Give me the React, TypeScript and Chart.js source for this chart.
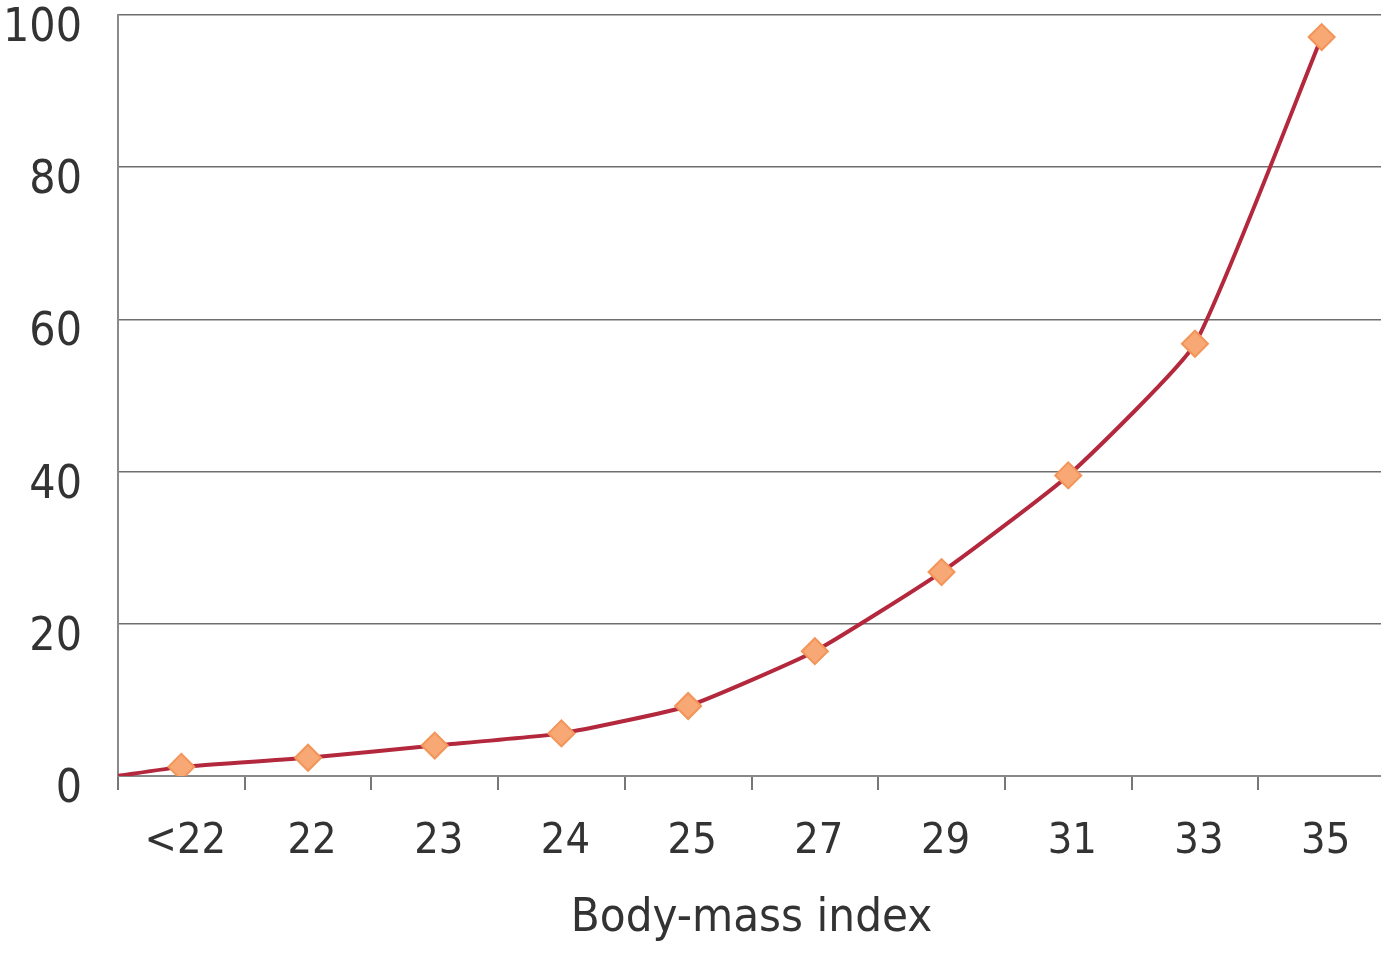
import React, { useEffect, useRef } from 'react';
import { Chart, registerables } from 'chart.js';
Chart.register(...registerables);

const categories = ['<22', '22', '23', '24', '25', '27', '29', '31', '33', '35'];
const riskValues = [1.2, 2.4, 4.0, 5.6, 9.2, 16.4, 26.8, 39.5, 56.8, 97.1];
const yTicks = [0, 20, 40, 60, 80, 100];
const xAxisTitle = 'Body-mass index';
const lineStartValue = 0;

const FONT = '"DejaVu Sans Condensed", "Liberation Sans", sans-serif';

export default function App() {
  const ref = useRef<HTMLCanvasElement | null>(null);
  useEffect(() => {
    if (!ref.current) return;
    const points = [
      { x: 0, y: lineStartValue },
      ...categories.map((c, i) => ({ x: i + 0.5, y: riskValues[i] })),
    ];
    const chart = new Chart(ref.current, {
      type: 'line',
      data: {
        datasets: [
          {
            data: points,
            borderColor: '#b3283d',
            borderWidth: 4,
            tension: 0.15,
            pointStyle: 'rectRot',
            pointRadius: (ctx: any) => (ctx.dataIndex === 0 ? 0 : 13),
            pointBackgroundColor: '#f7a874',
            pointBorderColor: '#f39458',
            pointBorderWidth: 2,
          },
        ],
      },
      options: {
        animation: false,
        responsive: false,
        devicePixelRatio: 1,
        layout: { padding: { top: 12, right: 5, left: 0, bottom: 0 } },
        plugins: { legend: { display: false }, tooltip: { enabled: false } },
        scales: {
          x: {
            type: 'linear',
            min: 0,
            max: 10,
            afterBuildTicks: (axis: any) => {
              const t = [];
              for (let i = 0; i <= 20; i++) t.push({ value: i * 0.5 });
              axis.ticks = t;
            },
            afterFit: (axis: any) => {
              axis.height = 177;
              axis.paddingLeft = 0;
              axis.paddingRight = 0;
            },
            grid: {
              drawOnChartArea: false,
              tickLength: 14,
              lineWidth: 2,
              color: (ctx: any) =>
                ctx.tick && Number.isInteger(ctx.tick.value) ? '#777777' : 'rgba(0,0,0,0)',
              tickColor: (ctx: any) =>
                ctx.tick && Number.isInteger(ctx.tick.value) ? '#777777' : 'rgba(0,0,0,0)',
            },
            border: { display: true, color: '#888888', width: 2 },
            ticks: {
              autoSkip: false,
              maxRotation: 0,
              padding: 26,
              labelOffset: 4,
              color: '#333333',
              font: { family: FONT, size: 43 },
              callback: (v: any) => {
                const i = Number(v) - 0.5;
                return Number.isInteger(i) && categories[i] !== undefined ? categories[i] : '';
              },
            },
            title: {
              display: true,
              text: xAxisTitle,
              color: '#333333',
              font: { family: FONT, size: 47 },
              padding: { top: 4, bottom: 6 },
            },
          },
          y: {
            min: 0,
            max: 100,
            afterBuildTicks: (axis: any) => {
              axis.ticks = yTicks.map((v) => ({ value: v }));
            },
            afterFit: (axis: any) => {
              axis.width = 118;
              axis.paddingTop = 0;
              axis.paddingBottom = 0;
            },
            grid: {
              drawTicks: false,
              color: '#6e6e6e',
              lineWidth: 1.6,
            },
            border: { display: true, color: '#8a8a8a', width: 2 },
            ticks: {
              padding: 36,
              labelOffset: 14,
              color: '#333333',
              font: { family: FONT, size: 46 },
            },
          },
        },
      },
    } as any);
    return () => chart.destroy();
  }, []);
  return (
    <div
      style={{
        position: 'absolute',
        left: 0,
        top: 0,
        width: 1381,
        height: 953,
        overflow: 'hidden',
        background: '#ffffff',
      }}
    >
      <canvas ref={ref} width={1400} height={953} style={{ width: 1400, height: 953, display: 'block' }} />
    </div>
  );
}
